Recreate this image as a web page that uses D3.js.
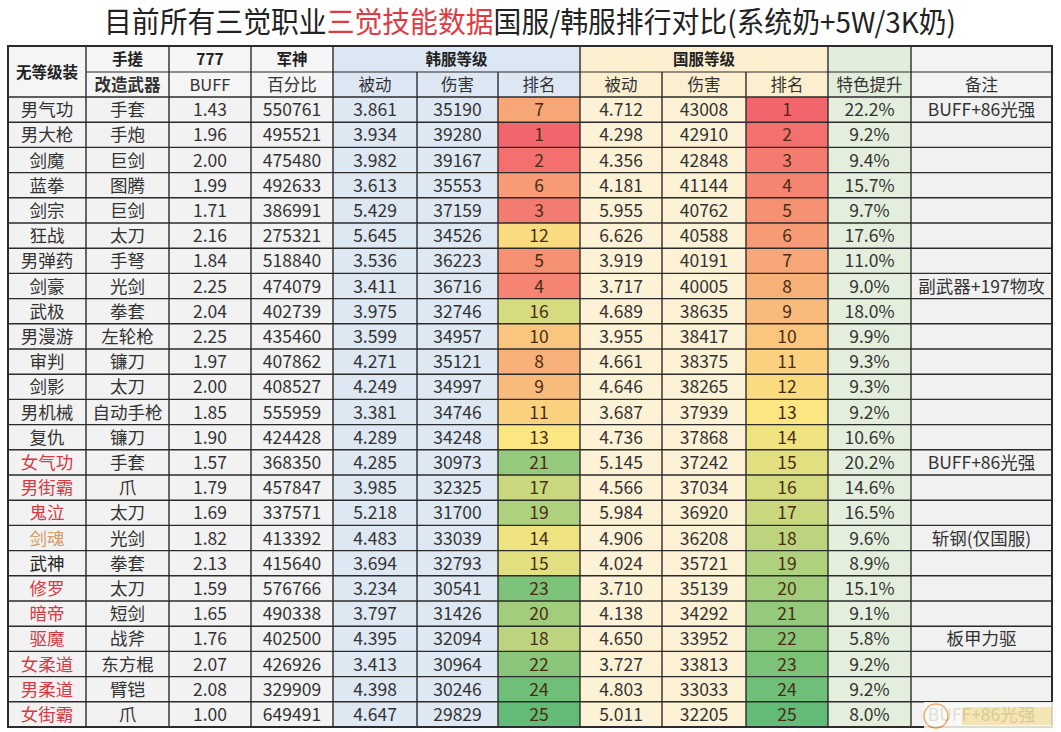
<!DOCTYPE html>
<html><head><meta charset="utf-8">
<script src="https://cdn.jsdelivr.net/npm/d3@7"></script>
<style>body{margin:0;background:#fff;}svg{display:block;}</style>
</head><body>
<svg id="chart" width="1061" height="732"></svg>
<script>
const names = ["男气功","男大枪","剑魔","蓝拳","剑宗","狂战","男弹药","剑豪","武极","男漫游","审判","剑影","男机械","复仇","女气功","男街霸","鬼泣","剑魂","武神","修罗","暗帝","驱魔","女柔道","男柔道","女街霸"];
const nameKind = ["n","n","n","n","n","n","n","n","n","n","n","n","n","n","r","r","r","o","b","r","r","r","r","r","r"];
const weapons = ["手套","手炮","巨剑","图腾","巨剑","太刀","手弩","光剑","拳套","左轮枪","镰刀","太刀","自动手枪","镰刀","手套","爪","太刀","光剑","拳套","太刀","短剑","战斧","东方棍","臂铠","爪"];
const buff = ["1.43","1.96","2.00","1.99","1.71","2.16","1.84","2.25","2.04","2.25","1.97","2.00","1.85","1.90","1.57","1.79","1.69","1.82","2.13","1.59","1.65","1.76","2.07","2.08","1.00"];
const percent = [550761,495521,475480,492633,386991,275321,518840,474079,402739,435460,407862,408527,555959,424428,368350,457847,337571,413392,415640,576766,490338,402500,426926,329909,649491];
const krPassive = ["3.861","3.934","3.982","3.613","5.429","5.645","3.536","3.411","3.975","3.599","4.271","4.249","3.381","4.289","4.285","3.985","5.218","4.483","3.694","3.234","3.797","4.395","3.413","4.398","4.647"];
const krDamage = [35190,39280,39167,35553,37159,34526,36223,36716,32746,34957,35121,34997,34746,34248,30973,32325,31700,33039,32793,30541,31426,32094,30964,30246,29829];
const krRank = [7,1,2,6,3,12,5,4,16,10,8,9,11,13,21,17,19,14,15,23,20,18,22,24,25];
const cnPassive = ["4.712","4.298","4.356","4.181","5.955","6.626","3.919","3.717","4.689","3.955","4.661","4.646","3.687","4.736","5.145","4.566","5.984","4.906","4.024","3.710","4.138","4.650","3.727","4.803","5.011"];
const cnDamage = [43008,42910,42848,41144,40762,40588,40191,40005,38635,38417,38375,38265,37939,37868,37242,37034,36920,36208,35721,35139,34292,33952,33813,33033,32205];
const cnRank = [1,2,3,4,5,6,7,8,9,10,11,12,13,14,15,16,17,18,19,20,21,22,23,24,25];
const boost = ["22.2%","9.2%","9.4%","15.7%","9.7%","17.6%","11.0%","9.0%","18.0%","9.9%","9.3%","9.3%","9.2%","10.6%","20.2%","14.6%","16.5%","9.6%","8.9%","15.1%","9.1%","5.8%","9.2%","9.2%","8.0%"];
const notes = ["BUFF+86光强","","","","","","","副武器+197物攻","","","","","","","BUFF+86光强","","","斩钢(仅国服)","","","","板甲力驱","","","BUFF+86光强"];
const headTop = ["无等级装","手搓","777","军神","韩服等级","国服等级","",""];
const headSub = ["","改造武器","BUFF","百分比","被动","伤害","排名","被动","伤害","排名","特色提升","备注"];
const titleParts = [["目前所有三觉职业","#222"],["三觉技能数据","#e23a42"],["国服/韩服排行对比(系统奶+5W/3K奶)","#222"]];

const svg = d3.select("#chart");
const FONT = "'Noto Sans CJK SC','Noto Sans',sans-serif";
const edges = [8,86,169,251,333,417,498,580,662,746,828,911,1052];
const colBg = ["#f2f2f2","#f2f2f2","#f2f2f2","#f2f2f2","#dde8f3","#dde8f3",null,"#fdf1d6","#fdf1d6",null,"#e3eedc","#f1f1f1"];
const headBg = ["#f5f5f5","#f5f5f5","#f5f5f5","#f5f5f5","#dce7f3","#dce7f3","#dce7f3","#fcefcf","#fcefcf","#fcefcf","#e2eedb","#f3f3f3"];
const yH1 = 46, yH2 = 72, yBody = 97, yBottom = 727;
const y = d3.scaleBand().domain(d3.range(names.length)).range([yBody, yBottom]).padding(0);
const rankColor = d3.scaleLinear().domain([1,13,25]).range(["#f2656c","#fce682","#62bb77"]);
const nameColor = {n:"#333",r:"#d43a44",o:"#d39c68",b:"#222"};

// title
const title = svg.append("text").attr("x",530).attr("y",33).attr("text-anchor","middle")
  .attr("font-family",FONT).attr("font-size",29).attr("font-weight",400);
titleParts.forEach(p=>title.append("tspan").attr("fill",p[1]).text(p[0]));
title.attr("textLength",852).attr("lengthAdjust","spacingAndGlyphs");

const g = svg.append("g");
headBg.forEach((c,i)=>{
  g.append("rect").attr("x",edges[i]).attr("y",yH1).attr("width",edges[i+1]-edges[i]).attr("height",yBody-yH1).attr("fill",c);
});
const cols = [names,weapons,buff,percent,krPassive,krDamage,krRank,cnPassive,cnDamage,cnRank,boost,notes];
cols.forEach((arr,ci)=>{
  g.selectAll(null).data(arr).enter().append("rect")
    .attr("x",edges[ci]).attr("y",(d,i)=>y(i)).attr("width",edges[ci+1]-edges[ci]).attr("height",y.bandwidth())
    .attr("fill",(d,i)=> ci===6||ci===9 ? rankColor(d) : colBg[ci]);
});
cols.forEach((arr,ci)=>{
  g.selectAll(null).data(arr).enter().append("text")
    .attr("x",(edges[ci]+edges[ci+1])/2).attr("y",(d,i)=>y(i)+y.bandwidth()/2+6.5)
    .attr("text-anchor","middle").attr("font-family",FONT).attr("font-size",17.5)
    .attr("fill",(d,i)=> ci===0 ? nameColor[nameKind[i]] : (ci===6||ci===9 ? "#4a2c14" : "#333"))
    .text(d=>d);
});
const lineCol = "#2b2b2b";
for(let i=1;i<names.length;i++){
  g.append("line").attr("x1",edges[0]).attr("x2",edges[12]).attr("y1",y(i)).attr("y2",y(i)).attr("stroke",lineCol).attr("stroke-width",1.4);
}
g.append("line").attr("x1",edges[0]).attr("x2",edges[12]).attr("y1",yBody).attr("y2",yBody).attr("stroke",lineCol).attr("stroke-width",1.4);
g.append("line").attr("x1",edges[1]).attr("x2",edges[12]).attr("y1",yH2).attr("y2",yH2).attr("stroke",lineCol).attr("stroke-width",1.2);
edges.forEach((x,i)=>{
  if(i===0||i===edges.length-1) return;
  const top = (i===5||i===6||i===8||i===9) ? yH2 : yH1;
  g.append("line").attr("x1",x).attr("x2",x).attr("y1",top).attr("y2",yBottom).attr("stroke",lineCol).attr("stroke-width",1.4);
});
g.append("rect").attr("x",edges[0]).attr("y",yH1).attr("width",edges[12]-edges[0]).attr("height",yBottom-yH1)
  .attr("fill","none").attr("stroke",lineCol).attr("stroke-width",2);

const topSpans = [[0,1],[1,2],[2,3],[3,4],[4,7],[7,10]];
topSpans.forEach((s,k)=>{
  const cy = k===0 ? (yH1+yBody)/2 : (yH1+yH2)/2;
  g.append("text").attr("x",(edges[s[0]]+edges[s[1]])/2).attr("y",cy+6)
    .attr("text-anchor","middle").attr("font-family",FONT).attr("font-size",k===0?15.5:15.5)
    .attr("font-weight","bold").attr("fill","#222").text(headTop[k]);
});
headSub.forEach((t,i)=>{
  if(!t) return;
  g.append("text").attr("x",(edges[i]+edges[i+1])/2).attr("y",(yH2+yBody)/2+6)
    .attr("text-anchor","middle").attr("font-family",FONT).attr("font-size",16.5)
    .attr("font-weight",i===1?"bold":"normal").attr("fill","#333").text(t);
});

// watermark patch
const wm = svg.append("g").attr("opacity",0.85);
wm.append("rect").attr("x",924).attr("y",702).attr("width",132).attr("height",30).attr("fill","#fbfbf6");
wm.append("circle").attr("cx",936).attr("cy",716).attr("r",12).attr("fill","none").attr("stroke","#f0a060").attr("stroke-width",1.5);
wm.append("rect").attr("x",962).attr("y",707).attr("width",90).attr("height",18).attr("fill","#f2d98a").attr("opacity",0.7);
</script>
</body></html>
